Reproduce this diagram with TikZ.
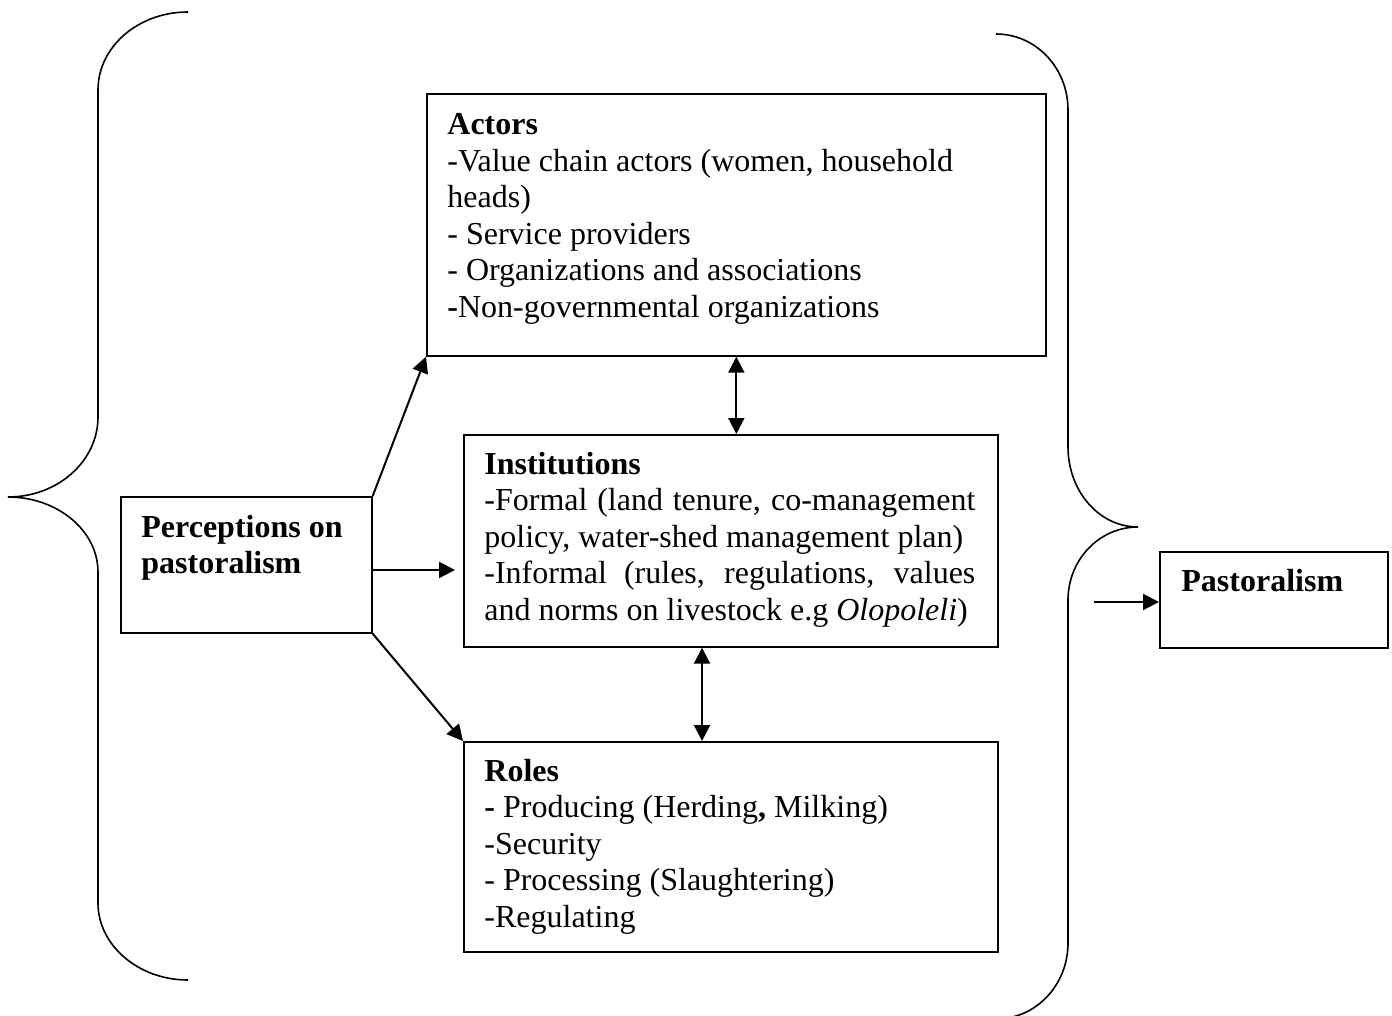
\documentclass[tikz,border=0pt]{standalone}
\usepackage{fontspec}
\setmainfont{Liberation Serif}
\usetikzlibrary{arrows.meta,calc}
\begin{document}
\begin{tikzpicture}[x=0.5pt,y=-0.5pt,
  boxnode/.style={draw, line width=0.85pt, inner sep=0pt, anchor=north west},
  txt/.style={anchor=base west, inner sep=0pt, font=\fontsize{16}{18.25}\selectfont},
  arr/.style={line width=1pt, -{Triangle[length=8pt,width=8pt]}},
  darr/.style={line width=1pt, {Triangle[length=8pt,width=8pt]}-{Triangle[length=8pt,width=8pt]}},
  bracepath/.style={line width=0.8pt}]
\path[use as bounding box] (0,0) rectangle (1392,1016);
\clip (0,0) rectangle (1392,1016);

% boxes
\node[boxnode, minimum width=309.5pt, minimum height=131pt] (actors) at (426,93) {};
\node[boxnode, minimum width=267pt, minimum height=106pt] (inst) at (463,434) {};
\node[boxnode, minimum width=267pt, minimum height=105pt] (roles) at (463,741) {};
\node[boxnode, minimum width=125.5pt, minimum height=68pt] (perc) at (120,496) {};
\node[boxnode, minimum width=114pt, minimum height=48pt] (past) at (1159,551) {};

% texts
\node[txt] (actorstxt) at (447,135) {\parbox[t]{290pt}{\textbf{Actors}\\
-Value chain actors (women, household\\
heads)\\
- Service providers\\
- Organizations and associations\\
\textbf{-}Non-governmental organizations}};

\node[txt] (insttxt) at (484,474) {\parbox[t]{245.5pt}{\textbf{Institutions}\\
\makebox[\linewidth][s]{-Formal (land tenure, co-management}\\
policy, water-shed management plan)\\
\makebox[\linewidth][s]{-Informal (rules, regulations, values}\\
and norms on livestock e.g \textit{Olopoleli})}};

\node[txt] (rolestxt) at (484,781) {\parbox[t]{245.5pt}{\textbf{Roles}\\
\textbf{-} Producing (Herding\textbf{,} Milking)\\
-Security\\
- Processing (Slaughtering)\\
-Regulating}};

\node[txt] (perctxt) at (141,537) {\parbox[t]{110pt}{\textbf{Perceptions on}\\
\textbf{pastoralism}}};

\node[txt] (pasttxt) at (1181,591) {\textbf{Pastoralism}};

% connectors
\draw[arr] (perc.north east) -- (actors.south west);
\coordinate (instin) at (455,570);
\draw[arr] (perc.east |- instin) -- (instin);
\draw[arr] (perc.south east) -- (roles.north west);
\draw[darr] (actors.south) -- (inst.north -| actors.south);
\coordinate (ir) at (702,0);
\draw[darr] (inst.south -| ir) -- (roles.north -| ir);
\coordinate (pastin) at (1094,602);
\draw[arr] (pastin) -- (past.west |- pastin);

% braces
\draw[bracepath] (188,12) .. controls (138,12) and (98,47) .. (98,90) -- (98,417)
  .. controls (98,461) and (58,497) .. (8,497)
  .. controls (58,497) and (98,531) .. (98,572) -- (98,903)
  .. controls (98,945) and (138,980) .. (188,980);
\draw[bracepath] (996,34) .. controls (1036,34) and (1068,68) .. (1068,110) -- (1068,447)
  .. controls (1068,491) and (1099,527) .. (1138,527)
  .. controls (1099,527) and (1068,560) .. (1068,600) -- (1068,943)
  .. controls (1068,985) and (1036,1019) .. (996,1019);
\end{tikzpicture}
\end{document}
